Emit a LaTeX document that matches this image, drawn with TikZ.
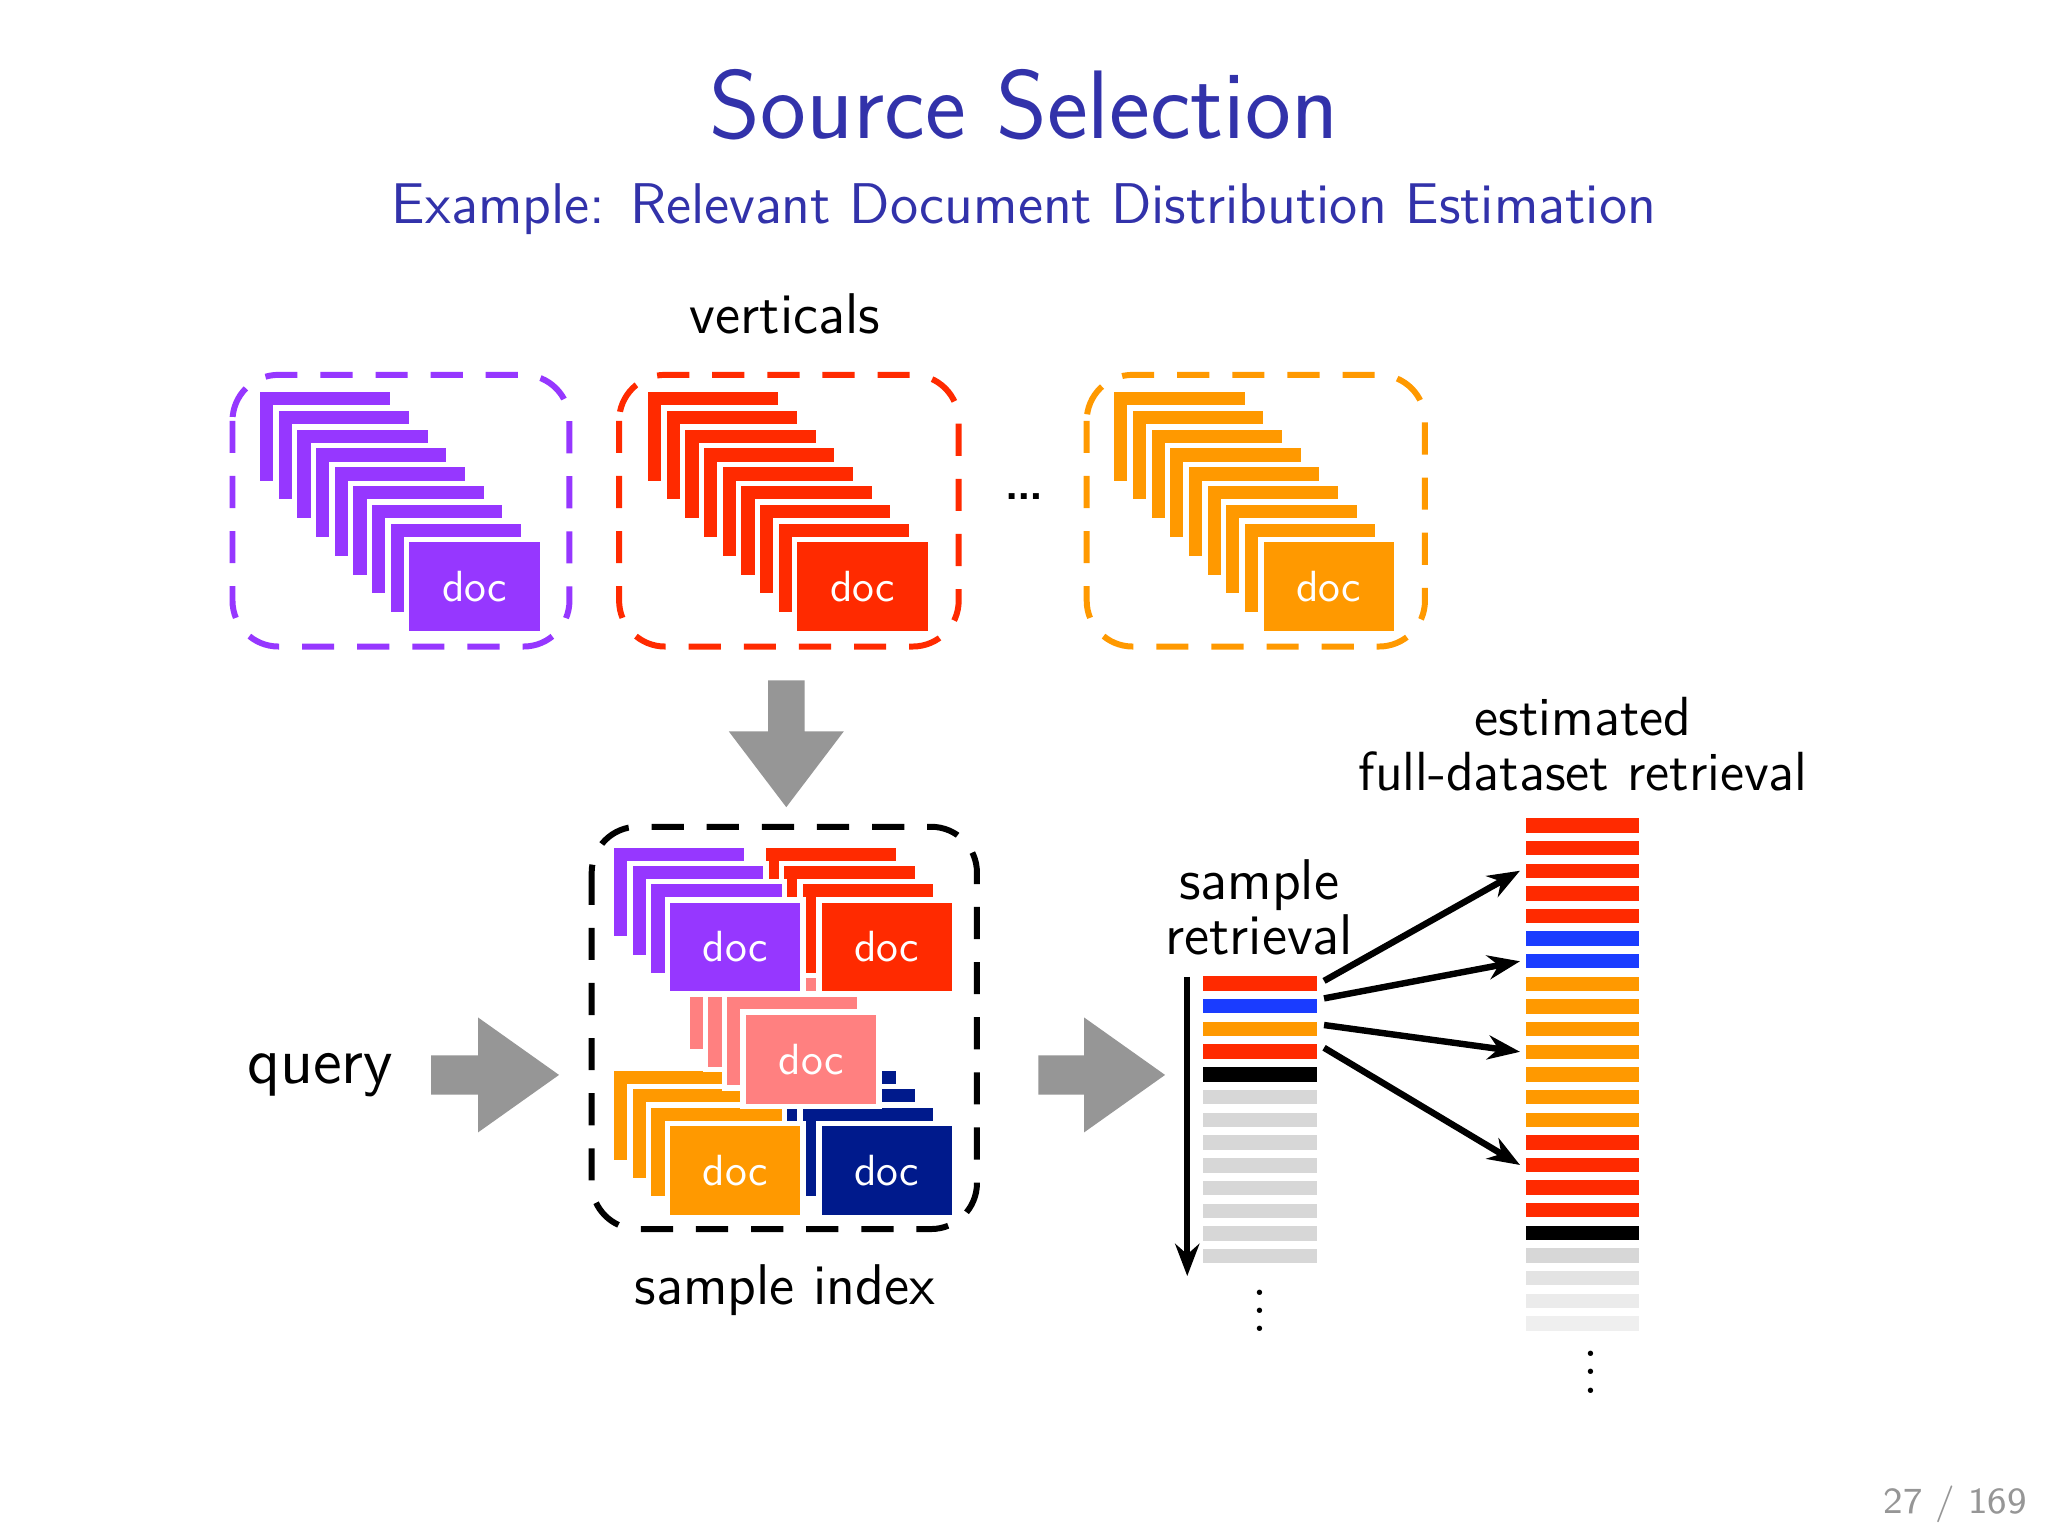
\documentclass[tikz,border=0pt]{standalone}
\usepackage{fontspec}
\usetikzlibrary{arrows.meta}
\definecolor{titleblue}{RGB}{50,50,170}
\definecolor{vpurple}{RGB}{150,55,255}
\definecolor{vred}{RGB}{255,42,0}
\definecolor{vorange}{RGB}{255,153,0}
\definecolor{vnavy}{RGB}{0,26,140}
\definecolor{vpink}{RGB}{255,128,128}
\definecolor{vblue}{RGB}{26,60,255}
\definecolor{vgray}{RGB}{150,150,150}
\definecolor{lgray}{RGB}{215,215,215}
% stack of doc sheets: x, y of back sheet, count-1, colour, name, dy
\newcommand{\docpile}[6]{%
  \foreach \i in {0,...,#3}{
    \fill[#4, draw=white, line width=1.2pt] (#1+14.3*\i,#2+#6*\i) rectangle ++(104,72);
  }
  \node[doc] (#5) at (#1+14.3*#3+52,#2+#6*#3+36) {doc};
}
\begin{document}
\begin{tikzpicture}[x=0.01cm,y=-0.01cm,
  doc/.style={font=\sffamily\fontsize{9.5}{11}\selectfont, text=white},
  lbl/.style={font=\sffamily\fontsize{12.5}{13}\selectfont, align=center},
  group/.style={dashed, line width=1.3pt, rounded corners=10, dash pattern=on 7pt off 5pt},
  fat/.style={fill=vgray, draw=none},
  bar/.style={minimum width=0.87cm, minimum height=0.11cm, inner sep=0, draw=none},
  ptr/.style={-{Stealth[length=7pt]}, line width=1.4pt},
]
\useasboundingbox (0,0) rectangle (1568,1176);
\fill[white] (0,0) rectangle (1568,1176);

\node[text=titleblue, font=\sffamily\fontsize{21.2}{25}\selectfont] (title) at (784,80) {Source Selection};
\node[text=titleblue, font=\sffamily\fontsize{12.5}{15}\selectfont] (sub) at (784,160) {Example: Relevant Document Distribution Estimation};

% verticals
\node[lbl] (vert) at (601,240) {verticals};
\draw[group, vpurple] (178,287) rectangle (436,495);
\draw[group, vred] (474,287) rectangle (734,495);
\draw[group, vorange] (832,287) rectangle (1091,495);
\docpile{197}{298}{8}{vpurple}{dp}{14.4}
\docpile{494}{298}{8}{vred}{dr}{14.4}
\docpile{851}{298}{8}{vorange}{do}{14.4}
\node[lbl, font=\sffamily\fontsize{16}{16}\selectfont] (dots) at (784,380) {\dots};

% down arrow
\fill[fat] (588,521) -- (616,521) -- (616,560) -- (646,560) -- (602,618) -- (558,560) -- (588,560) -- cycle;

% sample index
\draw[group, black] (453,633) rectangle (748,941);
\docpile{584}{818}{3}{vnavy}{sn}{14}
\docpile{468}{818}{3}{vorange}{so}{14}
\docpile{526}{733}{3}{vpink}{sk}{14}
\docpile{584}{647}{3}{vred}{sr}{14}
\docpile{468}{647}{3}{vpurple}{sp}{14}
\node[lbl] (sidx) at (601,988) {sample index};

% query and arrows
\node[lbl, font=\sffamily\fontsize{14.3}{15}\selectfont] (query) at (245,823) {query};
\fill[fat] (330,808) -- (366,808) -- (366,779) -- (428,823) -- (366,867) -- (366,838) -- (330,838) -- cycle;
\fill[fat] (795,808) -- (830,808) -- (830,779) -- (892,823) -- (830,867) -- (830,838) -- (795,838) -- cycle;

% sample retrieval
\node[lbl, font=\sffamily\fontsize{12.5}{12}\selectfont] (srl) at (964,695) {sample\\retrieval};
\foreach \c [count=\k from 0] in {vred,vblue,vorange,vred,black,lgray,lgray,lgray,lgray,lgray,lgray,lgray,lgray}{
  \node[bar, fill=\c] (s\k) at (964.5,753+17.4*\k) {};
}
\coordinate (rt) at (909,748);
\coordinate (rb) at (909,977);
\draw[ptr] (rt) -- (rb);
\node[font=\fontsize{12}{12}\selectfont, inner sep=0] (sv) at (965,993) {$\vdots$};

% full retrieval
\node[lbl, font=\sffamily\fontsize{12}{12}\selectfont] (frl) at (1212,570) {estimated\\full-dataset retrieval};
\foreach \c [count=\k from 0] in {vred,vred,vred,vred,vred,vblue,vblue,vorange,vorange,vorange,vorange,vorange,vorange,vorange,vred,vred,vred,vred,black,lgray,lgray!70,lgray!50,lgray!40}{
  \node[bar, fill=\c] (f\k) at (1211.5,632+17.33*\k) {};
}
\node[font=\fontsize{12}{12}\selectfont, inner sep=0] (fv) at (1218,1040) {$\vdots$};

\draw[ptr] (s0.east) ++(5,-2) -- ([xshift=-1pt]f2.west);
\draw[ptr] (s1.east) ++(5,-6) -- ([xshift=-1pt]f6.west);
\draw[ptr] (s2.east) ++(5,-3) -- ([xshift=-1pt]f10.west);
\draw[ptr] (s3.east) ++(5,-3) -- ([xshift=-1pt]f15.west);

\node[text=vgray, font=\sffamily\fontsize{8}{9}\selectfont] (pg) at (1497,1152) {27 / 169};
\end{tikzpicture}
\end{document}
